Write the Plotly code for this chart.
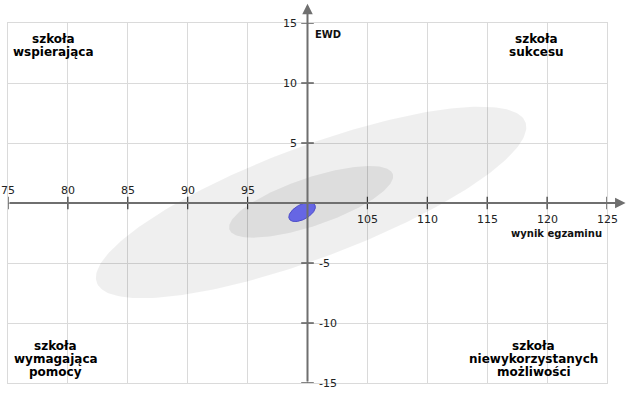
import numpy as np
import plotly.graph_objects as go

# ---- data ----
x_ticks = [75, 80, 85, 90, 95, 105, 110, 115, 120, 125]
y_ticks = [15, 10, 5, -5, -10, -15]
x_tick_labels = ["75", "80", "85", "90", "95", "105", "110", "115", "120", "125"]
y_tick_labels = ["15", "10", "5", "-5", "-10", "-15"]

# confidence ellipses: centre, semi-axes (data units), rotation (deg)
ell_names = ["large", "medium", "school"]
ell_cx = [100.3, 100.3, 99.55]
ell_cy = [0.05, 0.1, -0.75]
ell_a = [19.1, 7.2, 1.22]
ell_b = [4.65, 2.0, 0.62]
ell_angle = [20.5, 18.7, 28.5]
ell_fill = ["rgba(0,0,0,0.062)", "rgba(0,0,0,0.075)", "rgb(102,102,228)"]
ell_line = ["rgba(0,0,0,0)", "rgba(0,0,0,0)", "rgb(75,75,200)"]

quad_tl = ["szkoła", "wspierająca"]
quad_tr = ["szkoła", "sukcesu"]
quad_bl = ["szkoła", "wymagająca", "pomocy"]
quad_br = ["szkoła", "niewykorzystanych", "możliwości"]

x_title = "wynik egzaminu"
y_title = "EWD"

fig = go.Figure()

t = np.linspace(0, 2 * np.pi, 241)
for name, cx, cy, a, b, ang, fc, lc in zip(ell_names, ell_cx, ell_cy, ell_a, ell_b,
                                          ell_angle, ell_fill, ell_line):
    th = np.deg2rad(ang)
    xs = cx + a * np.cos(t) * np.cos(th) - b * np.sin(t) * np.sin(th)
    ys = cy + a * np.cos(t) * np.sin(th) + b * np.sin(t) * np.cos(th)
    fig.add_trace(go.Scatter(x=xs, y=ys, mode="lines", fill="toself", fillcolor=fc,
                             line=dict(color=lc, width=1), hoverinfo="skip", name=name))

AX_COLOR = "#6f6f6f"
# axis lines with arrowheads
fig.add_annotation(x=126.55, y=0, ax=75, ay=0, xref="x", yref="y", axref="x", ayref="y",
                   showarrow=True, arrowhead=2, arrowsize=1.05, arrowwidth=2,
                   arrowcolor=AX_COLOR, text="", standoff=0)
fig.add_annotation(x=100, y=16.6, ax=100, ay=-15, xref="x", yref="y", axref="x", ayref="y",
                   showarrow=True, arrowhead=2, arrowsize=1.05, arrowwidth=2,
                   arrowcolor=AX_COLOR, text="", standoff=0)

# tick marks crossing the axes
fig.add_trace(go.Scatter(x=x_ticks, y=[0] * len(x_ticks), mode="markers", cliponaxis=False,
                         marker=dict(symbol="line-ns", size=9,
                                     line=dict(color="#333333", width=1.2)),
                         hoverinfo="skip"))
fig.add_trace(go.Scatter(x=[100] * len(y_ticks), y=y_ticks, mode="markers", cliponaxis=False,
                         marker=dict(symbol="line-ew", size=9,
                                     line=dict(color="#333333", width=1.2)),
                         hoverinfo="skip"))

TICK_FONT = dict(family="DejaVu Sans", size=11, color="#222222")
for xv, lab in zip(x_ticks, x_tick_labels):
    above = xv < 100
    fig.add_annotation(x=xv, y=0, text=lab, showarrow=False, font=TICK_FONT,
                       xanchor="center", yanchor="middle", yshift=13 if above else -16.5)
for yv, lab in zip(y_ticks, y_tick_labels):
    pos = yv > 0
    fig.add_annotation(x=100, y=yv, text=lab, showarrow=False, font=TICK_FONT,
                       xanchor="right" if pos else "left", yanchor="middle",
                       xshift=-9 if pos else 9)

# axis titles
TITLE_FONT = dict(family="DejaVu Sans", size=10, color="#111111", weight="bold")
fig.add_annotation(x=125, y=0, text=x_title, showarrow=False, font=TITLE_FONT,
                   xanchor="right", yanchor="middle", xshift=-3, yshift=-30)
fig.add_annotation(x=100, y=15, text=y_title, showarrow=False, font=TITLE_FONT,
                   xanchor="left", yanchor="middle", xshift=5, yshift=-11)

# quadrant labels, one annotation per line
QFONT = dict(family="DejaVu Sans", size=12, color="#000000", weight="bold")
def quad(lines, x, y_top):
    for i, ln in enumerate(lines):
        fig.add_annotation(x=x, y=y_top, text=ln, showarrow=False, font=QFONT,
                           xanchor="center", yanchor="middle", yshift=-13 * i)

quad(quad_tl, 78.8, 13.65)
quad(quad_tr, 119.1, 13.65)
quad(quad_bl, 79.0, -11.9)
quad(quad_br, 118.9, -11.9)

GRID = "#dadada"
fig.update_xaxes(range=[75, 125], tick0=75, dtick=5, showticklabels=False, ticks="",
                 showgrid=True, gridcolor=GRID, gridwidth=1, zeroline=False,
                 showline=True, mirror=True, linecolor=GRID, linewidth=1, fixedrange=True)
fig.update_yaxes(range=[-15, 15], tick0=-15, dtick=5, showticklabels=False, ticks="",
                 showgrid=True, gridcolor=GRID, gridwidth=1, zeroline=False,
                 showline=True, mirror=True, linecolor=GRID, linewidth=1, fixedrange=True)

fig.update_layout(width=629, height=395, margin=dict(l=8, r=22, t=23, b=12),
                  plot_bgcolor="white", paper_bgcolor="white", showlegend=False,
                  hovermode=False)

fig.write_html("out.html", config={"displayModeBar": False},
               post_script="document.body.style.margin='0px';")
